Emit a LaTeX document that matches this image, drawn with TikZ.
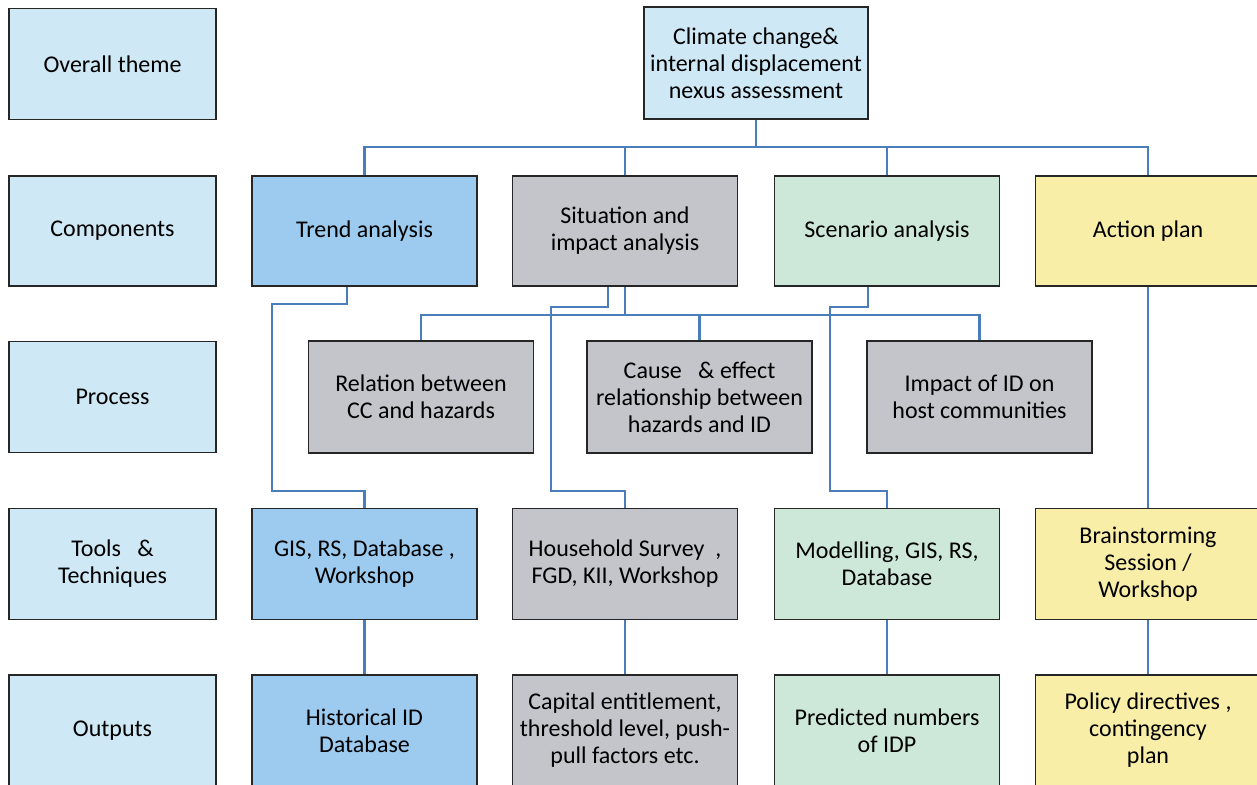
\documentclass[tikz,border=0pt]{standalone}
\usepackage{fontspec}
\setmainfont{Carlito}
\usepackage{tikz}
\definecolor{rowBlue}{HTML}{CFE8F5}
\definecolor{trendBlue}{HTML}{9CCBEF}
\definecolor{impactGray}{HTML}{C4C5CB}
\definecolor{scenGreen}{HTML}{CDE8D9}
\definecolor{actYellow}{HTML}{F9EEA8}
\definecolor{linkBlue}{HTML}{4A7EBB}
\newcommand{\boxFont}[0]{\fontsize{24}{27}\selectfont}
\newcommand{\boxLine}[0]{1.8pt}

\begin{document}
\begin{tikzpicture}[x=1pt, y=-1pt]
  \tikzset{
    box/.style={draw=black!85, line width=\boxLine, align=center, inner sep=0pt,
      minimum width=225pt, minimum height=111pt, font=\boxFont},
    rowbox/.style={box, fill=rowBlue, minimum width=207pt},
    link/.style={draw=linkBlue, line width=2.2pt}
  }
  \useasboundingbox (0,0) rectangle (1257,784);
  \clip (0,0) rectangle (1257,784);
  % row labels
  \node[rowbox] (theme) at (112.5,64) {Overall theme};
  \node[rowbox, minimum height=110pt] (components) at (112.5,231) {Components};
  \node[rowbox] (process) at (112.5,397) {Process};
  \node[rowbox] (tools) at (112.5,564) {Tools \ \ \&\\Techniques};
  \node[rowbox] (outputs) at (112.5,730.5) {Outputs};
  % theme and components
  \node[box, fill=rowBlue, minimum width=224pt, minimum height=112pt] (nexus) at (756,63)
    {Climate change\&\\internal displacement\\nexus assessment};
  \node[box, fill=trendBlue, minimum height=110pt] (trend) at (364.5,231) {Trend analysis};
  \node[box, fill=impactGray, minimum height=110pt] (situation) at (625,231) {Situation and\\impact analysis};
  \node[box, fill=scenGreen, minimum height=110pt] (scenario) at (887,231) {Scenario analysis};
  \node[box, fill=actYellow, minimum height=110pt] (action) at (1148,231) {Action plan};
  % process
  \node[box, fill=impactGray, minimum height=112pt] (relation) at (421,397) {Relation between\\CC and hazards};
  \node[box, fill=impactGray, minimum height=112pt] (cause) at (699.5,397) {Cause \ \ \& effect\\relationship between\\hazards and ID};
  \node[box, fill=impactGray, minimum height=112pt] (impact) at (979.5,397) {Impact of ID on\\host communities};
  % tools and techniques
  \node[box, fill=trendBlue] (trend-tools) at (364.5,564) {GIS, RS, Database ,\\Workshop};
  \node[box, fill=impactGray] (situation-tools) at (625,564) {Household Survey \ ,\\FGD, KII, Workshop};
  \node[box, fill=scenGreen] (scenario-tools) at (887,564) {Modelling, GIS, RS,\\Database};
  \node[box, fill=actYellow] (action-tools) at (1148,564) {Brainstorming\\Session /\\Workshop};
  % outputs
  \node[box, fill=trendBlue] (trend-out) at (364.5,730.5) {Historical ID\\Database};
  \node[box, fill=impactGray] (situation-out) at (625,730.5) {Capital entitlement,\\threshold level, push-\\pull factors etc.};
  \node[box, fill=scenGreen] (scenario-out) at (887,730.5) {Predicted numbers\\of IDP};
  \node[box, fill=actYellow] (action-out) at (1148,730.5) {Policy directives ,\\contingency\\plan};
  % connectors
  \draw[link] (nexus.south) -- ++(0,27) coordinate (bus-1);
  \foreach \n in {trend,situation,scenario,action}
    \draw[link] (bus-1) -| (\n.north);
  \draw[link] (situation.south) -- ++(0,28) coordinate (bus-2);
  \foreach \n in {relation,cause,impact}
    \draw[link] (bus-2) -| (\n.north);
  \draw[link] ([xshift=-17.5pt]trend.south) -- ++(0,17) -| ++(-75,187) -| (trend-tools.north);
  \draw[link] ([xshift=-17pt]situation.south) -- ++(0,20) -| ++(-57,184) -| (situation-tools.north);
  \draw[link] ([xshift=-19pt]scenario.south) -- ++(0,20) -| ++(-38,184) -| (scenario-tools.north);
  \draw[link] (action) -- (action-tools);
  \foreach \n in {trend,situation,scenario,action}
    \draw[link] (\n-tools) -- (\n-out);
\end{tikzpicture}
\end{document}
